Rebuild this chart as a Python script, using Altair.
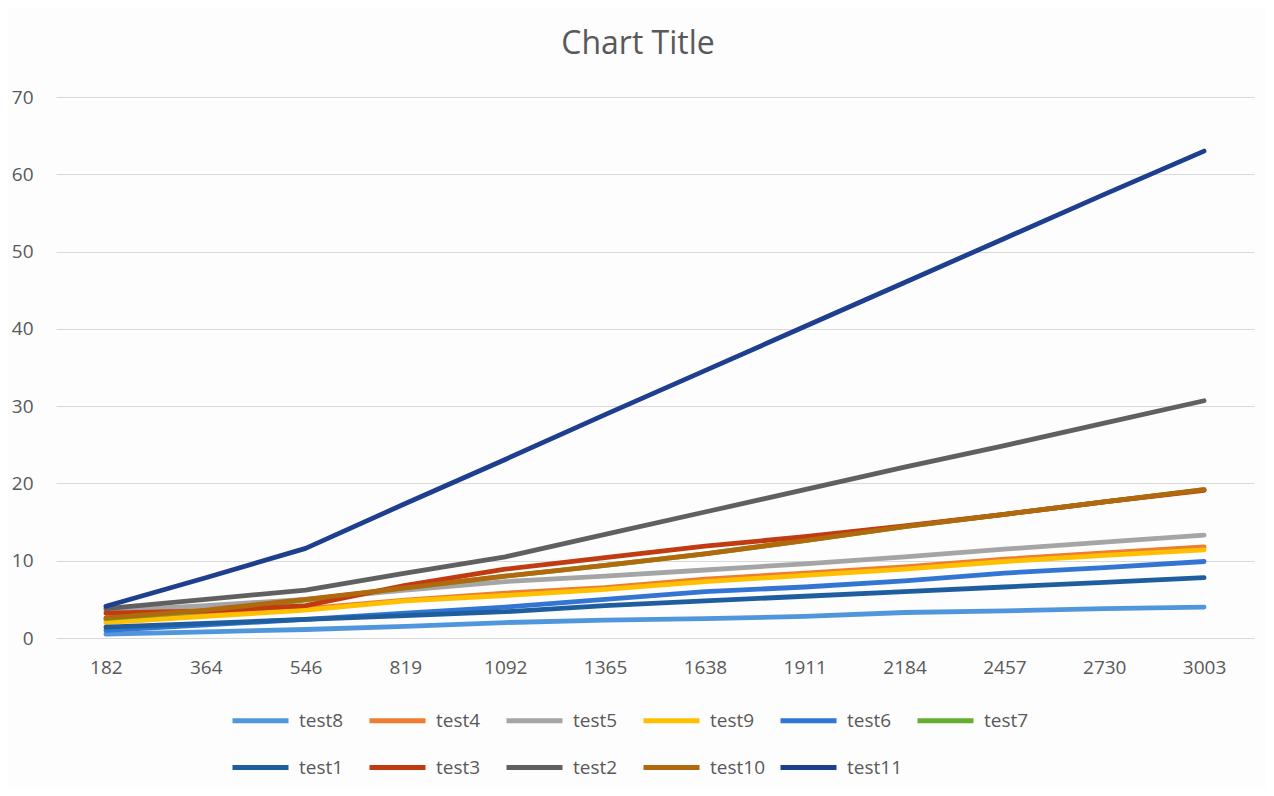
import altair as alt
import pandas as pd

x_labels = ["182", "364", "546", "819", "1092", "1365", "1638", "1911", "2184", "2457", "2730", "3003"]

series_names = ["test8", "test4", "test5", "test9", "test6", "test7",
                "test1", "test3", "test2", "test10", "test11"]
series_colors = ["#5096DC", "#ED7D31", "#A5A5A5", "#FFC000", "#3275D3", "#63AE31",
                 "#1F5E9E", "#C23B10", "#606060", "#B0690C", "#1D3F8E"]

test8 = [0.5, 0.8, 1.1, 1.5, 2.0, 2.3, 2.5, 2.8, 3.3, 3.5, 3.8, 4.0]
test4 = [2.3, 3.0, 3.8, 4.9, 5.8, 6.5, 7.6, 8.4, 9.2, 10.2, 11.0, 11.8]
test5 = [3.5, 4.2, 5.0, 6.2, 7.3, 8.0, 8.8, 9.6, 10.5, 11.5, 12.4, 13.3]
test9 = [2.0, 2.8, 3.6, 4.8, 5.5, 6.3, 7.3, 8.1, 8.9, 9.9, 10.7, 11.4]
test6 = [1.0, 1.7, 2.4, 3.2, 4.0, 5.0, 6.0, 6.6, 7.4, 8.4, 9.1, 9.9]
test7 = [2.5, 3.5, 4.9, 6.5, 8.0, 9.4, 10.9, 12.6, 14.4, 16.0, 17.6, 19.2]
test1 = [1.4, 1.9, 2.4, 2.9, 3.4, 4.2, 4.8, 5.4, 6.0, 6.6, 7.2, 7.8]
test3 = [3.2, 3.5, 4.2, 6.8, 8.9, 10.4, 11.9, 13.1, 14.5, 16.0, 17.6, 19.1]
test2 = [3.8, 5.0, 6.2, 8.4, 10.5, 13.4, 16.3, 19.2, 22.1, 24.9, 27.8, 30.7]
test10 = [2.6, 3.6, 5.0, 6.5, 8.0, 9.4, 10.9, 12.6, 14.4, 16.0, 17.6, 19.2]
test11 = [4.1, 7.8, 11.6, 17.4, 23.1, 28.9, 34.6, 40.3, 46.0, 51.7, 57.4, 63.0]

all_series = [test8, test4, test5, test9, test6, test7, test1, test3, test2, test10, test11]

rows = []
for name, vals in zip(series_names, all_series):
    for xl, v in zip(x_labels, vals):
        rows.append({"x": xl, "series": name, "value": v})
df = pd.DataFrame(rows)

FONT = "Open Sans"
TXT = "#595959"

chart = alt.Chart(df).mark_line(
    strokeWidth=4.8, strokeCap="round", strokeJoin="round"
).encode(
    x=alt.X("x:N", sort=x_labels,
            scale=alt.Scale(type="point", padding=0.5),
            axis=alt.Axis(title=None, labelAngle=0, ticks=False, domain=False,
                          labelPadding=20, labelFontSize=19, labelColor=TXT,
                          labelFont=FONT, grid=False)),
    y=alt.Y("value:Q", scale=alt.Scale(domain=[0, 70], nice=False),
            axis=alt.Axis(values=list(range(0, 80, 10)), title=None, ticks=False,
                          domain=False, gridColor="#d9d9d9", gridWidth=1,
                          labelPadding=23, labelFontSize=19, labelColor=TXT,
                          labelFont=FONT)),
    color=alt.Color("series:N", sort=series_names,
                    scale=alt.Scale(domain=series_names, range=series_colors),
                    legend=alt.Legend(title=None, orient="none", legendX=174, legendY=593,
                                      direction="horizontal",
                                      columns=6, gridAlign="all", columnPadding=5,
                                      rowPadding=6, padding=0,
                                      symbolType="stroke", symbolSize=3136,
                                      symbolStrokeWidth=5, labelOffset=8,
                                      labelFontSize=19, labelColor=TXT, labelFont=FONT,
                                      labelLimit=200)),
).properties(
    width=1198,
    height=541,
    title=alt.TitleParams("Chart Title", fontSize=32, font=FONT, fontWeight="normal",
                          color=TXT, anchor="middle", baseline="bottom", offset=1,
                          dx=-17, dy=6),
    autosize=alt.AutoSizeParams(type="none"),
    padding={"left": 48, "top": 89, "right": 12, "bottom": 150},
    background="#fdfdfe",
).configure_view(stroke=None)

chart.save("out.html", embed_options={"renderer": "svg", "actions": False})
